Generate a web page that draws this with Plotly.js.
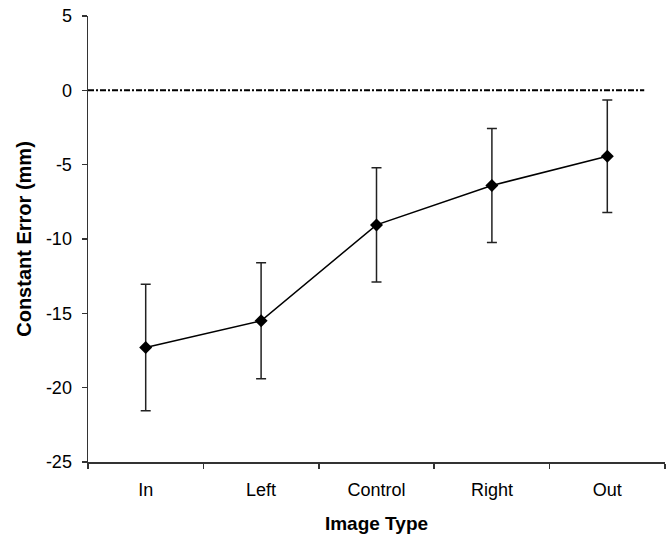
<!DOCTYPE html>
<html>
<head>
<meta charset="utf-8">
<script src="https://cdn.plot.ly/plotly-3.0.1.min.js"></script>
<style>html,body{margin:0;padding:0;background:#fff;}#chart{width:668px;height:535px;}</style>
</head>
<body>
<div id="chart"></div>
<script>
const categories = ["In", "Left", "Control", "Right", "Out"];
const constantError = [-17.3, -15.5, -9.05, -6.4, -4.43];
const errorSize = [4.25, 3.9, 3.85, 3.83, 3.78];
const referenceY = 0;
const referenceXStart = -0.5;
const referenceXEnd = 4.32;
const yTickValues = [-25, -20, -15, -10, -5, 0, 5];

const trace = {
  x: categories,
  y: constantError,
  type: "scatter",
  mode: "lines+markers",
  line: {color: "#000", width: 1.5},
  marker: {symbol: "diamond", size: 10, color: "#000"},
  error_y: {type: "data", array: errorSize, visible: true, color: "#222", thickness: 1.5, width: 5},
  showlegend: false,
  hoverinfo: "x+y"
};

const layout = {
  width: 668, height: 535,
  margin: {l: 88, r: 3, t: 16, b: 73},
  paper_bgcolor: "#fff", plot_bgcolor: "#fff",
  font: {family: "Liberation Sans, Arial, sans-serif", color: "#000", size: 18},
  xaxis: {
    type: "category", range: [-0.5, 4.5], tickson: "boundaries",
    ticks: "outside", ticklen: 5, tickcolor: "#333", tickwidth: 1.5,
    showline: true, linecolor: "#333", linewidth: 1.5, showgrid: false, zeroline: false,
    tickfont: {size: 18}, ticklabelstandoff: 11,
    title: {text: "Image Type", font: {size: 19, weight: "bold"}, standoff: 17}
  },
  yaxis: {
    range: [-25, 5], tickvals: yTickValues, ticktext: yTickValues.map(String),
    ticks: "outside", ticklen: 5, tickcolor: "#333", tickwidth: 1.5,
    showline: true, linecolor: "#333", linewidth: 1.5, showgrid: false, zeroline: false,
    tickfont: {size: 18}, ticklabelstandoff: 6,
    title: {text: "Constant Error (mm)", font: {size: 20, weight: "bold"}, standoff: 9}
  },
  shapes: [{
    type: "line", xref: "x", yref: "y",
    x0: referenceXStart, x1: referenceXEnd, y0: referenceY, y1: referenceY,
    line: {color: "#000", width: 2, dash: "6px,2px,2px,2px"}
  }]
};

Plotly.newPlot("chart", [trace], layout, {displayModeBar: false, staticPlot: true});
</script>
</body>
</html>
